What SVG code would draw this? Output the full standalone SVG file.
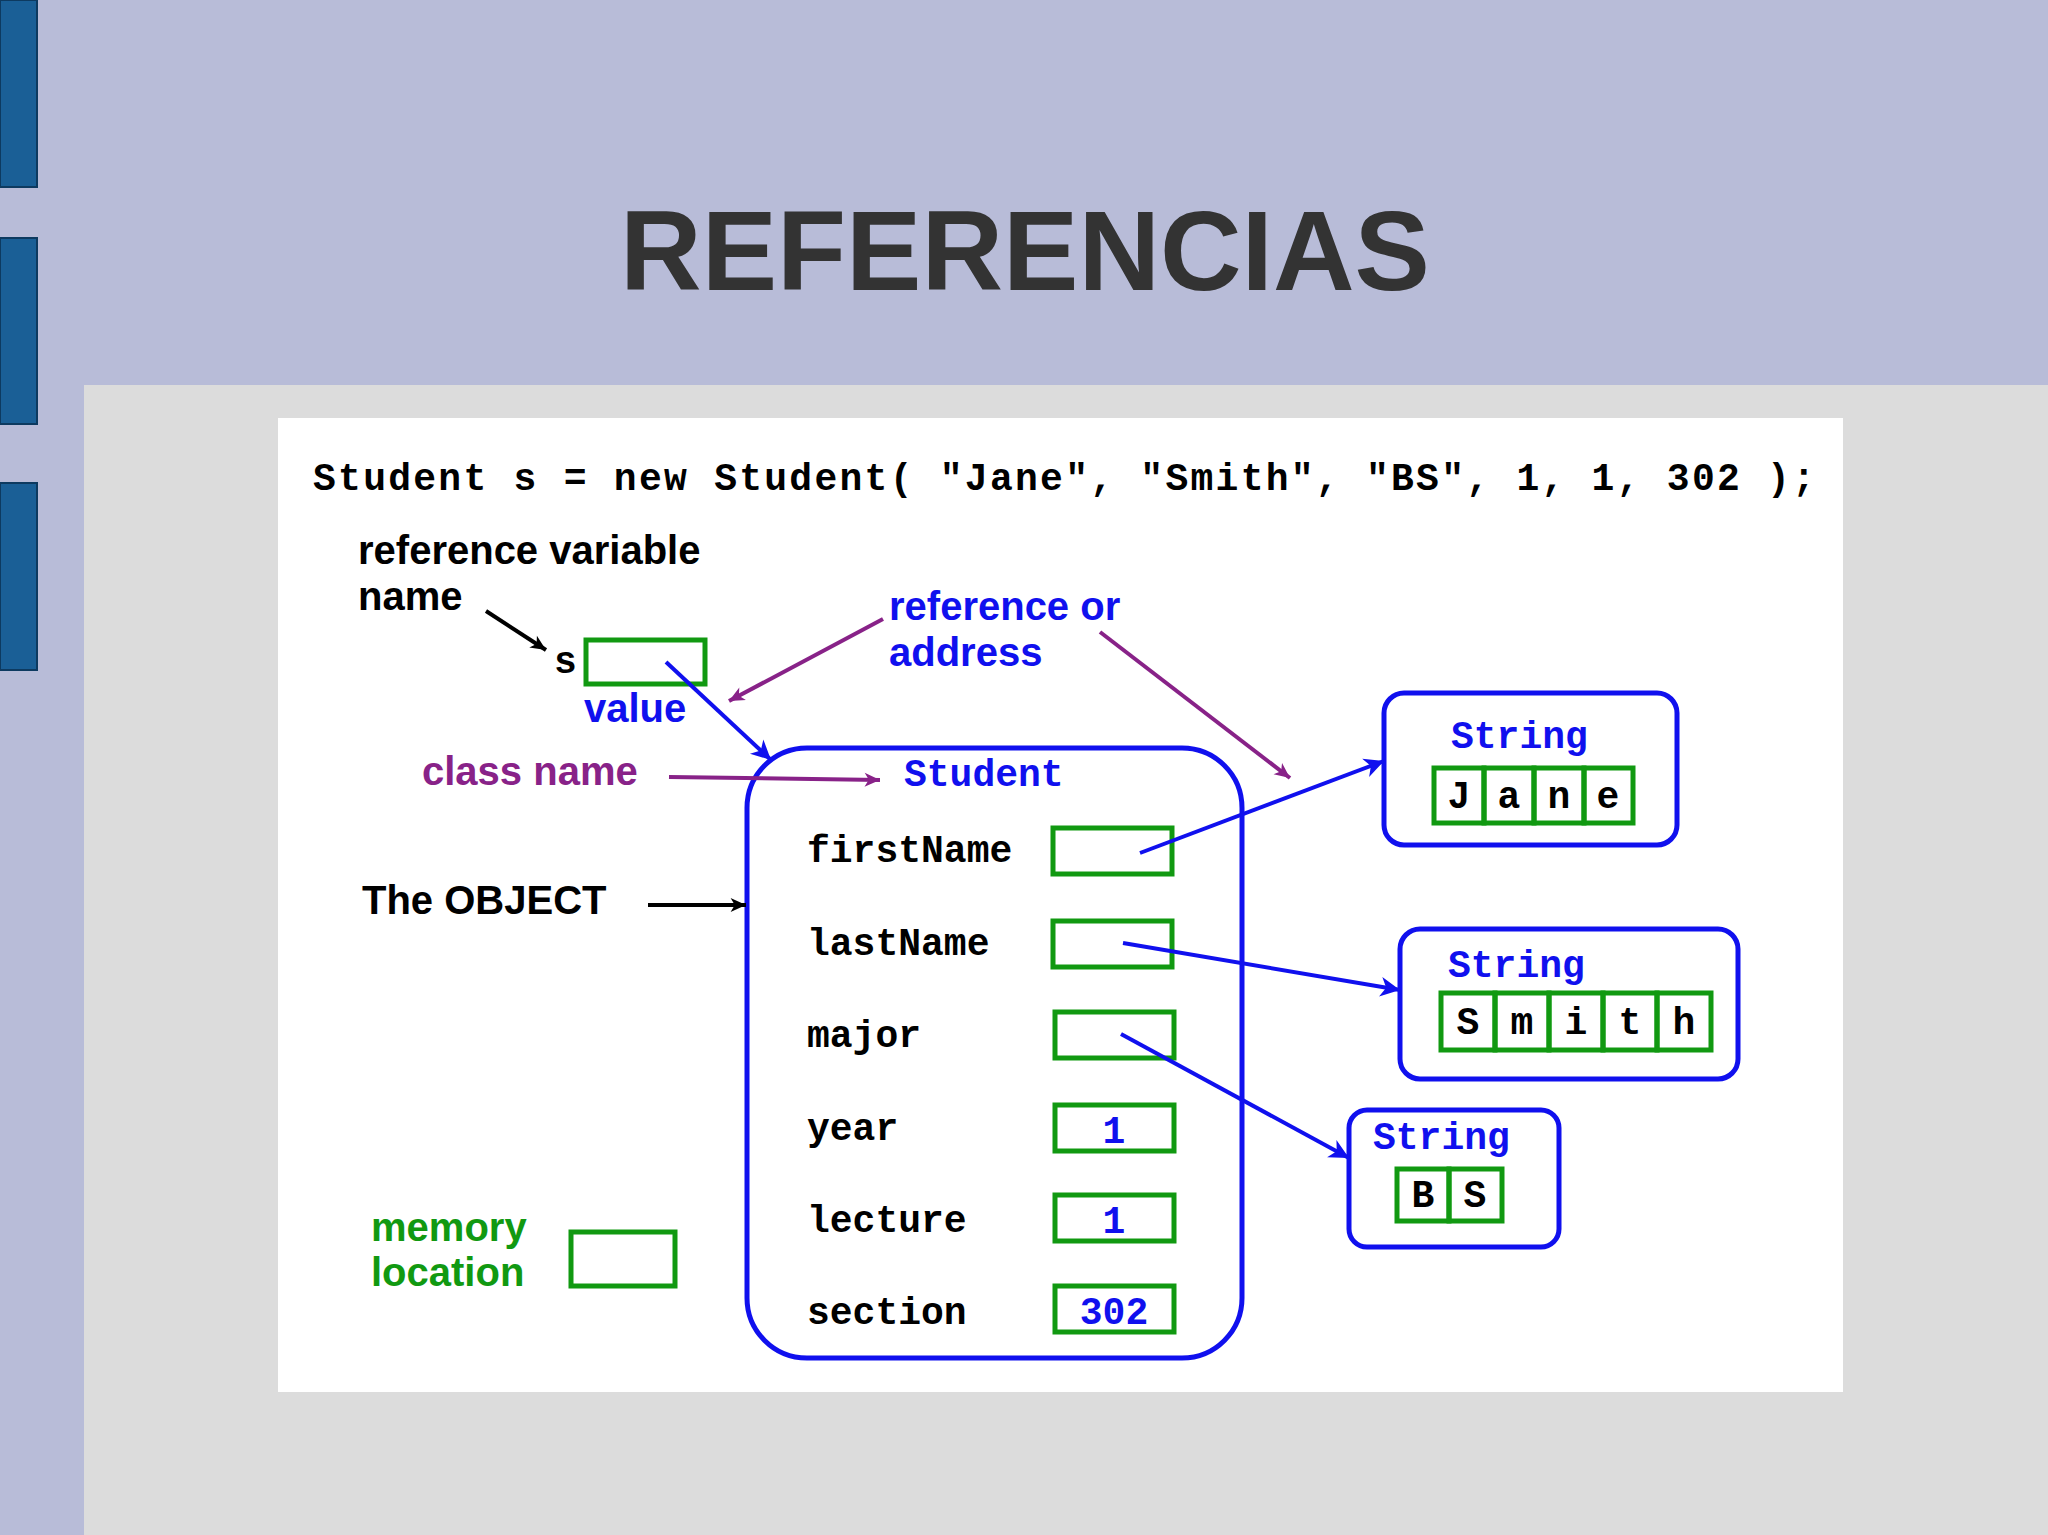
<svg xmlns="http://www.w3.org/2000/svg" width="2048" height="1535" viewBox="0 0 2048 1535">
<style>
.bar{fill:#1a5f96;stroke:#0d3a60;stroke-width:2}
.sans{font-family:"Liberation Sans",Arial,sans-serif;font-weight:bold;font-size:40px}
.mono{font-family:"Liberation Mono","Courier New",monospace;font-weight:bold;font-size:38px}
.cell{fill:none;stroke:#119911;stroke-width:5}
.obj{fill:none;stroke:#1010ee;stroke-width:5}
.bl{stroke:#1010ee;stroke-width:4;fill:none;marker-end:url(#ab)}
.pu{stroke:#882288;stroke-width:4;fill:none;marker-end:url(#ap)}
.bk{stroke:#000;stroke-width:4;fill:none;marker-end:url(#ak)}
</style>
<defs>
<marker id="ab" viewBox="0 0 10 10" refX="9" refY="5" markerWidth="7" markerHeight="7" orient="auto" markerUnits="userSpaceOnUse" style="overflow:visible"><path d="M-28,-9 L0,5 L-28,19 L-20,5 Z" transform="translate(9,0)" fill="#1010ee"/></marker>
<marker id="ap" viewBox="0 0 10 10" refX="9" refY="5" markerWidth="7" markerHeight="7" orient="auto" markerUnits="userSpaceOnUse" style="overflow:visible"><path d="M-22,-5 L0,5 L-22,15 L-16,5 Z" transform="translate(9,0)" fill="#882288"/></marker>
<marker id="ak" viewBox="0 0 10 10" refX="9" refY="5" markerWidth="7" markerHeight="7" orient="auto" markerUnits="userSpaceOnUse" style="overflow:visible"><path d="M-22,-5 L0,5 L-22,15 L-16,5 Z" transform="translate(9,0)" fill="#000"/></marker>
</defs>
<rect width="2048" height="1535" fill="#b8bcd8"/>
<rect x="84" y="385" width="1964" height="1150" fill="#dcdcdc"/>
<rect class="bar" x="0" y="0" width="37" height="187"/>
<rect class="bar" x="0" y="238" width="37" height="186"/>
<rect class="bar" x="0" y="483" width="37" height="187"/>
<text x="1025" y="290" text-anchor="middle" font-family="Liberation Sans,Arial,sans-serif" font-weight="bold" font-size="113" fill="#333">REFERENCIAS</text>
<rect x="278" y="418" width="1565" height="974" fill="#fff"/>
<text class="mono" x="313" y="490" font-size="41" textLength="1502" fill="#000">Student s = new Student( "Jane", "Smith", "BS", 1, 1, 302 );</text>

<g id="labels">
<text class="sans" x="358" y="564">reference variable</text>
<text class="sans" x="358" y="610">name</text>
<text class="mono" x="554" y="673">s</text>
<text class="sans" x="584" y="722" fill="#1010ee">value</text>
<text class="sans" x="889" y="620" fill="#1010ee">reference or</text>
<text class="sans" x="889" y="666" fill="#1010ee">address</text>
<text class="sans" x="422" y="785" fill="#882288">class name</text>
<text class="sans" x="362" y="914">The OBJECT</text>
<text class="sans" x="371" y="1241" fill="#119911">memory</text>
<text class="sans" x="371" y="1286" fill="#119911">location</text>
</g>
<g id="var-s"><rect class="cell" x="586" y="640" width="119" height="44"/></g>
<g id="memory-box"><rect class="cell" x="571" y="1232" width="104" height="54"/></g>

<g id="object">
<rect class="obj" x="747" y="748" width="495" height="610" rx="60"/>
<text class="mono" x="904" y="786" fill="#1010ee">Student</text>
<text class="mono" x="807" y="862">firstName</text>
<text class="mono" x="807" y="955">lastName</text>
<text class="mono" x="807" y="1047">major</text>
<text class="mono" x="807" y="1140">year</text>
<text class="mono" x="807" y="1232">lecture</text>
<text class="mono" x="807" y="1324">section</text>
<rect class="cell" x="1053" y="828" width="119" height="46"/>
<rect class="cell" x="1053" y="921" width="119" height="46"/>
<rect class="cell" x="1055" y="1012" width="119" height="46"/>
<rect class="cell" x="1055" y="1105" width="119" height="46"/>
<rect class="cell" x="1055" y="1195" width="119" height="46"/>
<rect class="cell" x="1055" y="1286" width="119" height="46"/>
<text class="mono" x="1114" y="1143" text-anchor="middle" fill="#1010ee">1</text>
<text class="mono" x="1114" y="1233" text-anchor="middle" fill="#1010ee">1</text>
<text class="mono" x="1114" y="1324" text-anchor="middle" fill="#1010ee">302</text>
</g>

<g id="jane">
<rect class="obj" x="1384" y="693" width="293" height="152" rx="20"/>
<text class="mono" x="1451" y="748" fill="#1010ee">String</text>
<rect class="cell" x="1434" y="768" width="50" height="55"/><rect class="cell" x="1484" y="768" width="50" height="55"/><rect class="cell" x="1534" y="768" width="50" height="55"/><rect class="cell" x="1584" y="768" width="49" height="55"/>
<text class="mono" x="1459" y="808" text-anchor="middle">J</text><text class="mono" x="1509" y="808" text-anchor="middle">a</text><text class="mono" x="1559" y="808" text-anchor="middle">n</text><text class="mono" x="1608" y="808" text-anchor="middle">e</text>
</g>
<g id="smith">
<rect class="obj" x="1400" y="929" width="338" height="150" rx="20"/>
<text class="mono" x="1448" y="977" fill="#1010ee">String</text>
<rect class="cell" x="1441" y="993" width="54" height="57"/><rect class="cell" x="1495" y="993" width="54" height="57"/><rect class="cell" x="1549" y="993" width="54" height="57"/><rect class="cell" x="1603" y="993" width="54" height="57"/><rect class="cell" x="1657" y="993" width="54" height="57"/>
<text class="mono" x="1468" y="1034" text-anchor="middle">S</text><text class="mono" x="1522" y="1034" text-anchor="middle">m</text><text class="mono" x="1576" y="1034" text-anchor="middle">i</text><text class="mono" x="1630" y="1034" text-anchor="middle">t</text><text class="mono" x="1684" y="1034" text-anchor="middle">h</text>
</g>
<g id="bs">
<rect class="obj" x="1349" y="1110" width="210" height="137" rx="18"/>
<text class="mono" x="1373" y="1149" fill="#1010ee">String</text>
<rect class="cell" x="1397" y="1169" width="52" height="52"/><rect class="cell" x="1449" y="1169" width="53" height="52"/>
<text class="mono" x="1423" y="1207" text-anchor="middle">B</text><text class="mono" x="1475" y="1207" text-anchor="middle">S</text>
</g>

<g id="connectors">
<line class="bk" x1="486" y1="611" x2="546" y2="650"/>
<line class="bl" x1="666" y1="662" x2="771" y2="760"/>
<line class="pu" x1="883" y1="619" x2="729" y2="701"/>
<line class="pu" x1="1100" y1="632" x2="1290" y2="778"/>
<line class="pu" x1="669" y1="777" x2="880" y2="780"/>
<line class="bk" x1="648" y1="905" x2="746" y2="905"/>
<line class="bl" x1="1140" y1="853" x2="1384" y2="761"/>
<line class="bl" x1="1123" y1="943" x2="1400" y2="990"/>
<line class="bl" x1="1121" y1="1034" x2="1349" y2="1158"/>
</g>
</svg>
